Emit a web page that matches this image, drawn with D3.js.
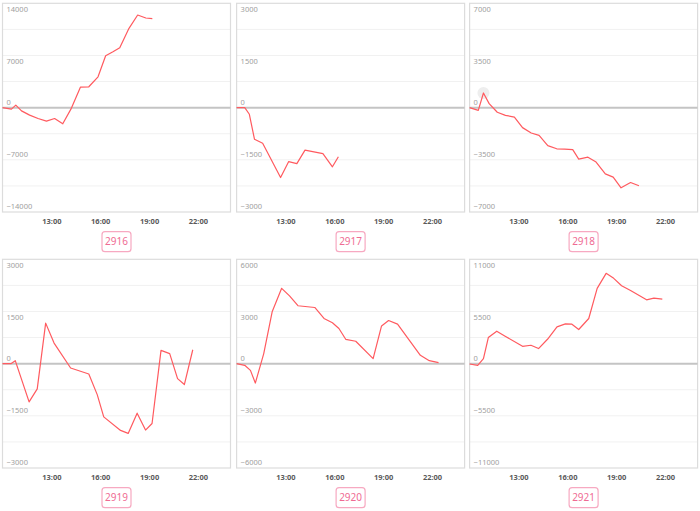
<!DOCTYPE html>
<html><head><meta charset="utf-8">
<script src="https://cdn.jsdelivr.net/npm/d3@7"></script>
<style>html,body{margin:0;padding:0;background:#fff;}svg{display:block;font-family:"Noto Sans","Open Sans",sans-serif;}</style>
</head><body>
<svg id="c" width="700" height="511"></svg>
<script>
const codes = ["2916","2917","2918","2919","2920","2921"];
const maxes = [14000, 3000, 7000, 3000, 6000, 11000];
const xTickLabels = ["13:00","16:00","19:00","22:00"];

const times1 = ["10:00","10:33","10:49","11:10","11:40","12:11","12:42","13:12","13:42","14:12","14:47","15:18","15:52","16:20","16:47","17:12","17:46","18:18","18:48","19:12"];
const values1 = [0,-200,340,-430,-1000,-1460,-1800,-1460,-2170,-200,2750,2800,4140,6970,7500,8040,10640,12430,12030,11940];

const times2 = ["10:00","10:30","10:47","11:06","11:36","12:42","13:12","13:42","14:12","15:18","15:53","16:15"];
const values2 = [0,0,-190,-910,-1025,-2010,-1550,-1610,-1220,-1320,-1700,-1410];

const times3 = ["10:00","10:32","10:51","11:12","11:42","12:12","12:45","13:15","13:47","14:16","14:48","15:21","15:50","16:20","16:42","17:16","17:46","18:20","18:49","19:18","19:53","20:24"];
const values3 = [0,-180,985,270,-310,-515,-630,-1340,-1700,-1860,-2550,-2760,-2780,-2820,-3450,-3320,-3650,-4440,-4660,-5380,-5020,-5240];

const times4 = ["10:00","10:31","10:47","11:38","12:08","12:39","13:10","14:11","15:18","15:49","16:13","17:15","17:43","18:16","18:47","19:11","19:44","20:16","20:45","21:10","21:41"];
const values4 = [0,0,86,-1100,-726,1165,592,-124,-296,-890,-1530,-1920,-2005,-1423,-1910,-1720,382,287,-430,-600,400];

const times5 = ["10:00","10:30","10:51","11:09","11:40","12:11","12:46","13:15","13:46","14:48","15:22","15:53","16:17","16:42","17:19","18:23","18:54","19:20","19:53","21:17","21:50","22:24"];
const values5 = [0,-96,-385,-1115,577,2980,4330,3900,3330,3230,2600,2350,2020,1400,1290,290,2170,2480,2270,480,173,58];

const times6 = ["10:00","10:30","10:51","11:09","11:40","12:11","13:15","13:46","14:14","14:47","15:22","15:53","16:17","16:42","17:19","17:50","18:23","18:51","19:20","19:53","20:52","21:19","21:50"];
const values6 = [-35,-176,529,2750,3420,2890,1830,1940,1590,2570,3880,4190,4160,3600,4760,7930,9520,8990,8210,7720,6730,6910,6800];

const allTimes = [times1,times2,times3,times4,times5,times6];
const allValues = [values1,values2,values3,values4,values5,values6];
const highlightPanel = 2, highlightIndex = 2;

const svg = d3.select("#c");
const parse = s => { const [h,m] = s.split(":").map(Number); return new Date(2020,0,1,h,m); };
const x0 = new Date(2020,0,1,10,0), x1 = new Date(2020,0,1,24,0);

const colLeft = [2.5, 236.6, 469.6];
const rowTop = [3.3, 259.3];
const W = 228, H = 208.7;

codes.forEach((code, i) => {
  const col = i % 3, row = Math.floor(i / 3);
  const L = colLeft[col], T = rowTop[row];
  const g = svg.append("g");
  const x = d3.scaleTime().domain([x0, x1]).range([L, L + W]);
  const m = maxes[i];
  const y = d3.scaleLinear().domain([-m, m]).range([T + H, T]);

  // grid (8 divisions)
  const gridVals = d3.range(-4, 5).map(k => k * m / 4);
  g.selectAll("line.grid").data(gridVals.filter(v => v !== 0 && Math.abs(v) !== m)).enter()
    .append("line").attr("x1", L).attr("x2", L + W)
    .attr("y1", d => y(d)).attr("y2", d => y(d))
    .attr("stroke", "#f1f1f1").attr("stroke-width", 1);

  // border
  g.append("rect").attr("x", L).attr("y", T).attr("width", W).attr("height", H)
    .attr("fill", "none").attr("stroke", "#dcdcdc").attr("stroke-width", 1.2);

  // zero line
  g.append("line").attr("x1", L).attr("x2", L + W).attr("y1", y(0)).attr("y2", y(0))
    .attr("stroke", "#c4c4c4").attr("stroke-width", 2);

  // y labels
  const labVals = [m, m / 2, 0, -m / 2, -m];
  g.selectAll("text.yl").data(labVals).enter().append("text")
    .attr("x", L + 4)
    .attr("y", d => d > 0 ? y(d) + 8.5 : y(d) - 3)
    .attr("font-size", 7.5).attr("fill", "#a0a0a0")
    .text(d => d3.format("d")(d));

  // x axis labels
  const xa = d3.axisBottom(x).tickValues(xTickLabels.map(parse)).tickFormat(d3.timeFormat("%H:%M")).tickSize(0);
  const ax = g.append("g").attr("transform", `translate(0,${T + H})`).call(xa);
  ax.select(".domain").remove();
  ax.selectAll("text").attr("font-size", 7.5).attr("font-weight", "bold").attr("fill", "#5a5a5a")
    .attr("dy", "0").attr("y", 11.5).style("font-family", "'Noto Sans','Open Sans',sans-serif");

  const data = allTimes[i].map((t, k) => ({ t: parse(t), v: allValues[i][k] }));

  if (i === highlightPanel) {
    const d = data[highlightIndex];
    g.append("circle").attr("cx", x(d.t)).attr("cy", y(d.v)).attr("r", 6).attr("fill", "#eeeeee");
  }

  const line = d3.line().x(d => x(d.t)).y(d => y(d.v));
  g.append("path").datum(data).attr("d", line)
    .attr("fill", "none").attr("stroke", "#ff5a5f").attr("stroke-width", 1.2).attr("stroke-linejoin", "round");

  // code label box
  const cx = L + W / 2, cy = T + H + 29.7;
  g.append("rect").attr("x", cx - 14.5).attr("y", cy - 10).attr("width", 29).attr("height", 20).attr("rx", 3)
    .attr("fill", "#fff").attr("stroke", "#f7a9c1").attr("stroke-width", 1.2);
  g.append("text").attr("x", cx).attr("y", cy + 3.6).attr("text-anchor", "middle")
    .attr("font-size", 10).attr("fill", "#ef6b93").text(code);
});
</script>
</body></html>
